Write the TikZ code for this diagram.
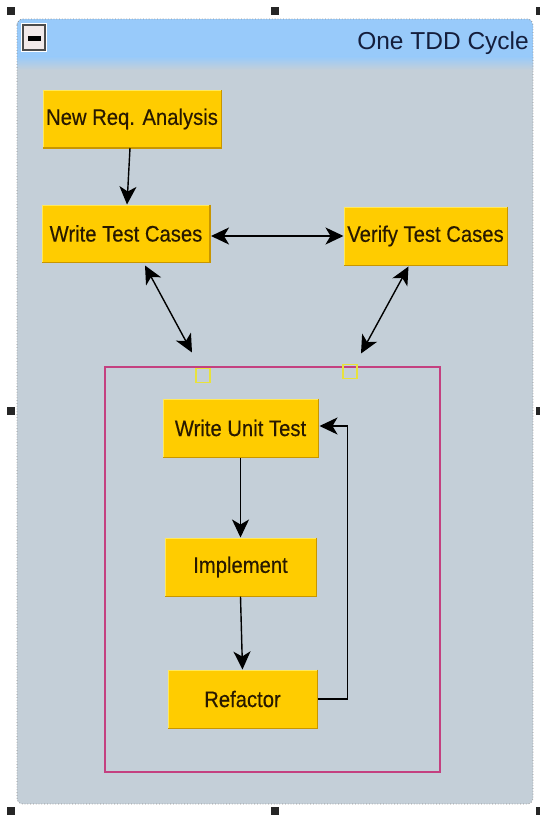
\documentclass[tikz,border=0pt]{standalone}
\usepackage{fontspec}
\setmainfont{Liberation Sans}
\newfontfamily\nodefont[FakeStretch=0.9,FakeBold=0.3]{Liberation Sans}
\usetikzlibrary{arrows.meta,calc}
\definecolor{headblue}{RGB}{152,202,250}
\definecolor{bodygray}{RGB}{196,207,216}
\definecolor{frameborder}{RGB}{140,140,140}
\definecolor{taskyellow}{RGB}{255,204,0}
\definecolor{tasklight}{RGB}{255,232,90}
\definecolor{taskdark}{RGB}{200,150,0}
\definecolor{tasktext}{RGB}{40,25,0}
\definecolor{pinkframe}{RGB}{196,64,128}
\definecolor{portyellow}{RGB}{232,226,60}
\definecolor{titletext}{RGB}{20,30,60}
\definecolor{btnfill}{RGB}{242,234,234}
\tikzset{
  tip/.tip={Stealth[length=18pt,width=17pt,inset=5pt]},
  task/.style={rectangle, fill=taskyellow, draw=tasklight, line width=1pt,
    inner sep=0pt, text=tasktext, font=\nodefont\fontsize{22.5}{24}\selectfont},
  conn/.style={line width=1.4pt, draw=black, -tip},
  dconn/.style={line width=1.4pt, draw=black, tip-tip},
  port/.style={rectangle, draw=portyellow, line width=1.2pt, minimum width=14pt,
    minimum height=14pt, inner sep=0pt},
  handle/.style={fill=black!85}
}
\begin{document}
\begin{tikzpicture}[x=1pt,y=-1pt]
\useasboundingbox (0,0) rectangle (539,816);
\fill[white] (0,0) rectangle (539,816);

% container
\begin{scope}
  \clip[rounded corners=6pt] (17,19) rectangle (533,804);
  \fill[bodygray] (17,19) rectangle (533,804);
  \fill[headblue] (17,19) rectangle (533,57);
  \shade[top color=headblue, bottom color=bodygray] (17,56.5) rectangle (533,70);
\end{scope}
\draw[frameborder, dotted, line width=0.8pt, rounded corners=6pt] (17,19) rectangle (533,804);

% collapse button
\draw[white, line width=1pt] (21.5,23.5) rectangle (46.5,51.5);
\draw[fill=btnfill, draw=black!70, line width=1.2pt] (23,25) rectangle (45,50);
\fill[black] (28,36) rectangle (41,41);

% title
\node[anchor=base east, text=titletext, font=\fontsize{24.5}{26}\selectfont, inner sep=0pt] (title) at (529,50) {One TDD Cycle};

% selection handles
\foreach \hx in {11,275,540}{
  \foreach \hy in {11,411,811}{
    \ifnum\hx=275 \ifnum\hy=411 \else
      \fill[handle] (\hx-4,\hy-4) rectangle (\hx+4,\hy+4);
    \fi\else
      \fill[handle] (\hx-4,\hy-4) rectangle (\hx+4,\hy+4);
    \fi
  }
}

% inner frame
\draw[pinkframe, line width=1.3pt] (105,367) rectangle (440,772);

% task nodes
\node[task, minimum width=178pt, minimum height=57pt] (nra) at (132,119) {New Req. Analysis};
\node[task, minimum width=167pt, minimum height=57pt] (wtc) at (126,233.5) {Write Test Cases};
\node[task, minimum width=163pt, minimum height=58pt] (vtc) at (425.5,236) {Verify Test Cases};
\node[task, minimum width=155pt, minimum height=58pt] (wut) at (240.5,428) {Write Unit Test};
\node[task, minimum width=151pt, minimum height=58pt] (imp) at (240.5,567) {Implement};
\node[task, minimum width=149pt, minimum height=58pt] (ref) at (242.5,699) {Refactor};
\foreach \n in {nra,wtc,vtc,wut,imp,ref}{
  \draw[taskdark, line width=1.2pt] (\n.north east) -- (\n.south east) -- (\n.south west);
}

% ports
\node[port] (p1) at (203,375.5) {};
\node[port] (p2) at (350,371.5) {};

% connectors
\draw[conn] ($(nra.south)+(-2,0)$) -- ($(wtc.north)+(1,0)$);
\draw[dconn] ($(wtc.east)+(1,2.5)$) -- (vtc.west);
\draw[dconn] ($(wtc.south)+(19,3)$) -- ($(p1)+(-11,-23)$);
\draw[dconn] ($(vtc.south)+(-17,1)$) -- ($(p2)+(11,-18)$);
\draw[conn] (wut.south) -- (imp.north);
\draw[conn] (imp.south) -- (ref.north);
\draw[conn] (ref.east) -- ++(30,0) |- ($(wut.east)+(1,-2)$);
\end{tikzpicture}
\end{document}
